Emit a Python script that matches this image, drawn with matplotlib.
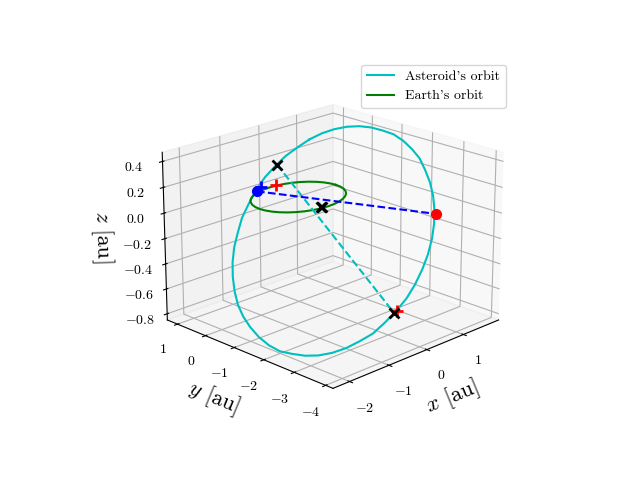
import matplotlib
matplotlib.use('Agg')
import matplotlib.pyplot as plt

plt.rcParams['font.family'] = ['cmr10', 'DejaVu Sans']
plt.rcParams['mathtext.fontset'] = 'cm'
plt.rcParams['axes.formatter.use_mathtext'] = True
plt.rcParams['axes.unicode_minus'] = False

# asteroid orbit
ast_x = [1.01,0.76,0.50,0.23,-0.05,-0.34,-0.62,-0.90,-1.16,-1.41,-1.64,-1.84,-2.02,-2.17,-2.28,-2.36,-2.40,-2.41,-2.38,-2.31,-2.20,-2.07,-1.90,-1.70,-1.48,-1.23,-0.97,-0.70,-0.42,-0.14,0.15,0.42,0.69,0.94,1.17,1.37,1.55,1.69,1.81,1.89,1.93,1.93,1.90,1.83,1.73,1.59,1.42,1.23,1.01]
ast_y = [0.93,1.03,1.10,1.12,1.10,1.03,0.92,0.77,0.57,0.35,0.09,-0.19,-0.50,-0.82,-1.15,-1.49,-1.83,-2.17,-2.49,-2.79,-3.08,-3.33,-3.55,-3.74,-3.89,-4.00,-4.06,-4.08,-4.06,-3.99,-3.88,-3.73,-3.54,-3.31,-3.05,-2.77,-2.46,-2.14,-1.81,-1.47,-1.13,-0.80,-0.47,-0.17,0.11,0.37,0.59,0.78,0.93]
ast_z = [0.30,0.25,0.20,0.14,0.08,0.01,-0.07,-0.14,-0.22,-0.29,-0.36,-0.43,-0.50,-0.56,-0.61,-0.65,-0.69,-0.72,-0.74,-0.74,-0.74,-0.73,-0.71,-0.68,-0.64,-0.60,-0.54,-0.48,-0.42,-0.35,-0.27,-0.20,-0.12,-0.05,0.02,0.09,0.15,0.21,0.27,0.31,0.35,0.38,0.39,0.40,0.40,0.39,0.37,0.34,0.30]

# earth orbit
earth_x = [1.0,0.985,0.94,0.866,0.766,0.643,0.5,0.342,0.174,0.0,-0.174,-0.342,-0.5,-0.643,-0.766,-0.866,-0.94,-0.985,-1.0,-0.985,-0.94,-0.866,-0.766,-0.643,-0.5,-0.342,-0.174,0.0,0.174,0.342,0.5,0.643,0.766,0.866,0.94,0.985,1.0]
earth_y = [0.0,0.174,0.342,0.5,0.643,0.766,0.866,0.94,0.985,1.0,0.985,0.94,0.866,0.766,0.643,0.5,0.342,0.174,0.0,-0.174,-0.342,-0.5,-0.643,-0.766,-0.866,-0.94,-0.985,-1.0,-0.985,-0.94,-0.866,-0.766,-0.643,-0.5,-0.342,-0.174,0.0]
earth_z = [0.0] * 37

# node line (blue) and apsis line (cyan)
node_x = [-0.34, 1.11]
node_y = [1.0, -3.17]
node_z = [0.0, 0.0]
apsis_x = [0.27, -0.75]
apsis_y = [1.1, -4.07]
apsis_z = [0.15, -0.49]

# single markers
red_plus_x = [0.18, -0.68]
red_plus_y = [1.03, -4.08]
red_plus_z = [0.0, -0.48]
blue_plus_x = [-0.11]
blue_plus_y = [1.17]
blue_plus_z = [0.0]
black_x_x = [0.27, -0.75, -0.12, -0.10]
black_x_y = [1.1, -4.07, -0.92, -0.93]
black_x_z = [0.15, -0.49, 0.0, 0.0]

fig = plt.figure(figsize=(6.4, 4.8))
ax = fig.add_subplot(projection='3d')
ax.computed_zorder = False

ax.plot(ast_x, ast_y, ast_z, color='c', label="Asteroid's orbit")
ax.plot(earth_x, earth_y, earth_z, color='g', label="Earth's orbit")
ax.plot(apsis_x, apsis_y, apsis_z, 'c--')
ax.plot(node_x, node_y, node_z, 'b--')
ax.plot(node_x[:1], node_y[:1], node_z[:1], 'bo', ms=7)
ax.plot(node_x[1:], node_y[1:], node_z[1:], 'ro', ms=7)
ax.plot(red_plus_x, red_plus_y, red_plus_z, 'r+', ms=8, mew=2)
ax.plot(blue_plus_x, blue_plus_y, blue_plus_z, 'b+', ms=9, mew=2)
ax.plot(black_x_x, black_x_y, black_x_z, 'kx', ms=7, mew=2)

ax.set_xlim(-2.41, 2.0)
ax.set_ylim(-4.23, 1.37)
ax.set_zlim(-0.85, 0.47)
ax.view_init(elev=20, azim=-135)
ax.set_xticks([-2, -1, 0, 1])
ax.set_yticks([-4, -3, -2, -1, 0, 1])
ax.set_xlabel('$x$ [au]', fontsize=16, labelpad=5)
ax.set_ylabel('$y$ [au]', fontsize=16, labelpad=5)
ax.set_zlabel('$z$ [au]', fontsize=16, labelpad=5)
ax.legend(fontsize=10)
fig.savefig('out.png', dpi=100)
